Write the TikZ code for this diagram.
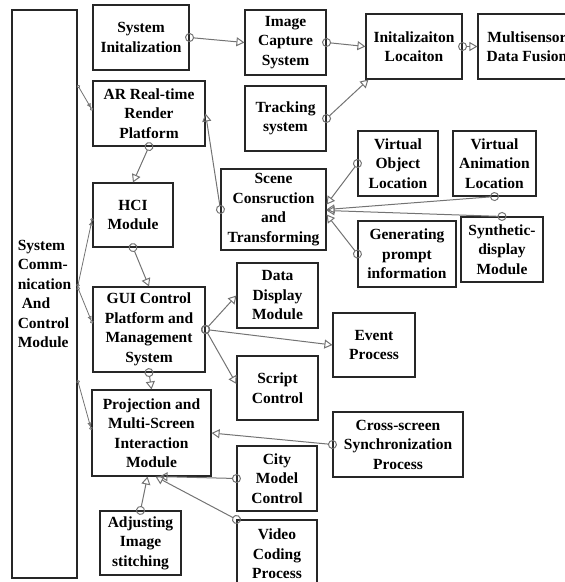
\documentclass[tikz,border=0pt]{standalone}
\usepackage{fontspec}
\setmainfont{Liberation Serif}
\usetikzlibrary{arrows.meta,positioning}
\definecolor{lnk}{RGB}{115,115,115}
\newcommand{\blk}[1]{\bfseries\fontsize{15.5}{19.5}\selectfont #1}

\begin{document}
\begin{tikzpicture}[x=1pt,y=-1pt,
	box/.style={draw=black!85,line width=1.1pt,inner sep=0pt,align=center,font=\blk},
	link/.style={draw=lnk,line width=1pt,{Circle[open,length=9pt]}-{Triangle[open,length=8pt,width=9pt]},shorten <=-4.5pt},
	tie/.style={draw=lnk,line width=0.8pt,{Circle[open,length=3.5pt]}-{Triangle[open,length=4pt,width=4pt]Circle[open,length=3.5pt]}}]
	\clip (0,0) rectangle (565,582);
	\node[box,minimum width=65pt,minimum height=568pt,align=left] (sys) at (44.5,294) {System\\Comm-\\nication\\\hspace*{4pt}And\\Control\\Module};
	\node[box,minimum width=96pt,minimum height=65pt] (init) at (141,37.5) {System\\Initalization};
	\node[box,minimum width=112pt,minimum height=65pt] (ar) at (149,113.5) {AR Real-time\\Render\\Platform};
	\node[box,minimum width=80pt,minimum height=64pt] (hci) at (133,215) {HCI\\Module};
	\node[box,minimum width=112pt,minimum height=85pt] (gui) at (149,329.5) {GUI Control\\Platform and\\Management\\System};
	\node[box,minimum width=119pt,minimum height=86pt] (proj) at (151.5,433) {Projection and\\Multi-Screen\\Interaction\\Module};
	\node[box,minimum width=81pt,minimum height=64pt] (adj) at (140.5,543) {Adjusting\\Image\\stitching};
	\node[box,minimum width=81pt,minimum height=65pt] (cap) at (285.5,42.5) {Image\\Capture\\System};
	\node[box,minimum width=81pt,minimum height=65pt] (trk) at (285.5,118.5) {Tracking\\system};
	\node[box,minimum width=96pt,minimum height=65pt] (loc) at (414,46.5) {Initalizaiton\\Locaiton};
	\node[box,minimum width=98pt,minimum height=65pt] (fus) at (527,46.5) {Multisensor\\Data Fusion};
	\node[box,minimum width=105pt,minimum height=81pt] (scn) at (273.5,209.5) {Scene\\Consruction\\and\\Transforming};
	\node[box,minimum width=80pt,minimum height=65pt] (vobj) at (398,163.5) {Virtual\\Object\\Location};
	\node[box,minimum width=83pt,minimum height=65pt] (vani) at (494.5,163.5) {Virtual\\Animation\\Location};
	\node[box,minimum width=98pt,minimum height=66pt] (gen) at (407,254) {Generating\\prompt\\information};
	\node[box,minimum width=82pt,minimum height=65pt] (syn) at (502,249.5) {Synthetic-\\display\\Module};
	\node[box,minimum width=81pt,minimum height=65pt] (dat) at (277.5,295.5) {Data\\Display\\Module};
	\node[box,minimum width=82pt,minimum height=64pt] (evt) at (374,345) {Event\\Process};
	\node[box,minimum width=81pt,minimum height=64pt] (scr) at (277.5,388) {Script\\Control};
	\node[box,minimum width=130pt,minimum height=65pt] (crs) at (398,444.5) {Cross-screen\\Synchronization\\Process};
	\node[box,minimum width=80pt,minimum height=65pt] (cty) at (277,478.5) {City\\Model\\Control};
	\node[box,minimum width=80pt,minimum height=68pt] (vid) at (277,554) {Video\\Coding\\Process};

	\draw[link] (init.east) -- (cap.west);
	\draw[link] (cap.east) -- (loc.west);
	\draw[link] (trk.east) -- ([xshift=3pt]loc.south west);
	\draw[link] (loc.east) -- (fus.west);
	\draw[link] (scn.west) -- (ar.east);
	\draw[link] (ar.south) -- (hci.north);
	\draw[link] (hci.south) -- (gui.north);
	\draw[link] (gui.east) -- (dat.west);
	\draw[link] (gui.east) -- (evt.west);
	\draw[link] (gui.east) -- ([yshift=4pt]scr.west);
	\draw[link] (gui.south) -- (proj.north);
	\draw[link] (crs.west) -- (proj.east);
	\draw[link] (cty.west) -- ([xshift=8pt]proj.south);
	\draw[link] (vid.north west) -- ([xshift=4pt]proj.south);
	\draw[link] (adj.north) -- ([xshift=-4pt]proj.south);
	\draw[link] (vobj.west) -- ([yshift=5pt]scn.east);
	\draw[link] (vani.south) -- (scn.east);
	\draw[link] (syn.north) -- ([yshift=-1pt]scn.east);
	\draw[link] (gen.west) -- ([yshift=-5pt]scn.east);

	\draw[tie] ([yshift=209pt]sys.east) -- ([yshift=3pt]ar.west);
	\draw[tie] ([yshift=7pt]sys.east) -- ([yshift=-3pt]hci.west);
	\draw[tie] ([yshift=7pt]sys.east) -- ([yshift=6pt]gui.west);
	\draw[tie] ([yshift=-86pt]sys.east) -- ([yshift=3pt]proj.west);
\end{tikzpicture}
\end{document}
